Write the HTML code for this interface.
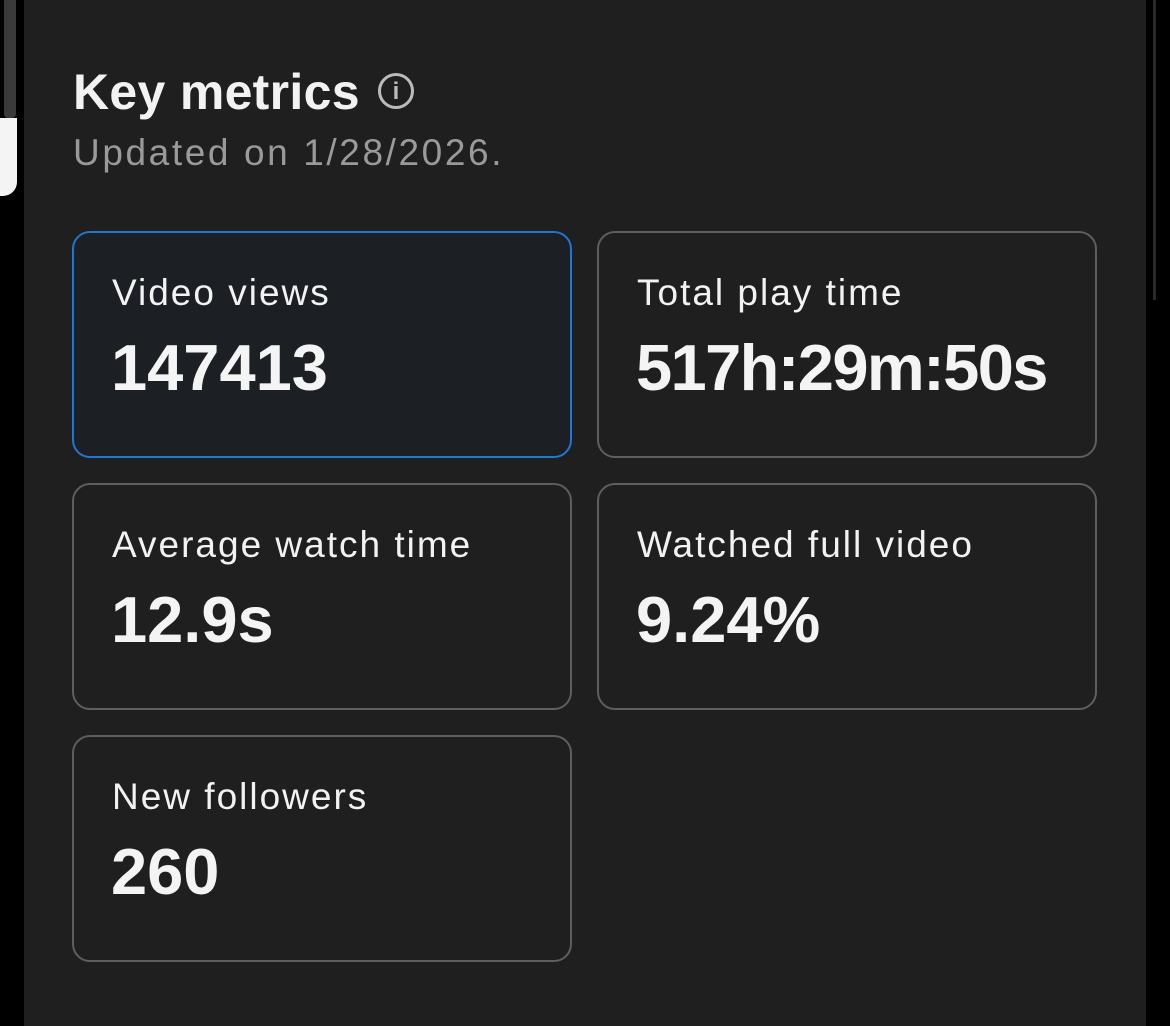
<!DOCTYPE html>
<html><head><style>
html,body{margin:0;padding:0;background:#000;width:1170px;height:1026px;overflow:hidden;font-family:"Liberation Sans",sans-serif;position:relative;}
.strip{position:absolute;left:-20px;top:118px;width:37px;height:78px;background:#f4f4f4;border-radius:0 0 14px 0;}
.strip2{position:absolute;left:4px;top:0;width:12px;height:118px;background:#3a3a3a;border-radius:0 0 4px 4px;}
.panel{position:absolute;left:24px;top:-20px;width:1122px;height:1046px;background:#1f1f1f;border-radius:22px 22px 0 0;}
.title{position:absolute;left:73px;top:62px;font-size:50px;font-weight:bold;color:#f2f2f2;line-height:60px;letter-spacing:0.3px;}
.info{position:absolute;left:378px;top:73px;width:36px;height:36px;border:3px solid #bbb;border-radius:50%;box-sizing:border-box;color:#bbb;font-size:24px;font-weight:bold;text-align:center;line-height:31px;}
.sub{position:absolute;left:73px;top:130px;font-size:37px;color:#9a9a9a;line-height:46px;letter-spacing:2.6px;}
.card{position:absolute;width:500px;height:227px;border:2px solid #5e5e5e;border-radius:18px;box-sizing:border-box;}
.card.sel{border-color:#1a78d6;background:#1c1f24;}
.lab{position:absolute;left:38px;top:38px;font-size:37px;color:#f2f2f2;line-height:44px;letter-spacing:2px;}
.val{position:absolute;left:37px;top:97px;font-size:65px;font-weight:bold;color:#f4f4f4;line-height:76px;}
.rline{position:absolute;left:1153px;top:0;width:3px;height:300px;background:#2a2a2a;}
</style></head><body>
<div class="strip2"></div>
<div class="strip"></div>
<div class="rline"></div>
<div class="panel"></div>
<div class="title">Key metrics</div>
<div class="info">i</div>
<div class="sub">Updated on 1/28/2026.</div>
<div class="card sel" style="left:72px;top:231px"><div class="lab">Video views</div><div class="val">147413</div></div>
<div class="card" style="left:597px;top:231px"><div class="lab">Total play time</div><div class="val" style="letter-spacing:-1.6px">517h:29m:50s</div></div>
<div class="card" style="left:72px;top:483px"><div class="lab">Average watch time</div><div class="val">12.9s</div></div>
<div class="card" style="left:597px;top:483px"><div class="lab">Watched full video</div><div class="val">9.24%</div></div>
<div class="card" style="left:72px;top:735px"><div class="lab">New followers</div><div class="val">260</div></div>
</body></html>
